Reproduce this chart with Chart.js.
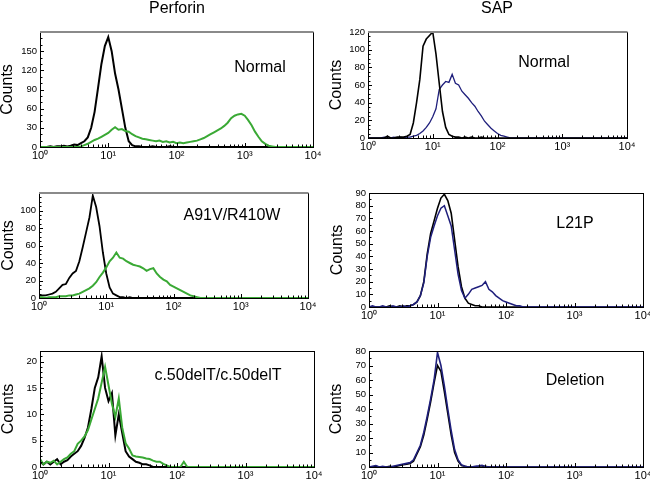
<!DOCTYPE html>
<html><head><meta charset="utf-8">
<script src="https://cdn.jsdelivr.net/npm/chart.js@4"></script>
<style>
html,body{margin:0;padding:0;background:#fff;}
#wrap{position:relative;width:650px;height:486px;overflow:hidden;font-family:"Liberation Sans",Arial,Helvetica,sans-serif;}
#wrap canvas{position:absolute;left:0;top:0;}
.lbl{position:absolute;font-size:16px;line-height:16px;white-space:nowrap;transform:translate(-50%,-50%);color:#000;}
</style></head>
<body><div id="wrap">
<canvas id="c1" width="650" height="486"></canvas>
<canvas id="c2" width="650" height="486"></canvas>
<canvas id="c3" width="650" height="486"></canvas>
<canvas id="c4" width="650" height="486"></canvas>
<canvas id="c5" width="650" height="486"></canvas>
<canvas id="c6" width="650" height="486"></canvas>
<div class="lbl" style="left:177px;top:8px">Perforin</div>
<div class="lbl" style="left:497px;top:8px">SAP</div>
<div class="lbl" style="left:260px;top:67px">Normal</div>
<div class="lbl" style="left:544px;top:62px">Normal</div>
<div class="lbl" style="left:232px;top:215px">A91V/R410W</div>
<div class="lbl" style="left:575px;top:223px">L21P</div>
<div class="lbl" style="left:218px;top:375px">c.50delT/c.50delT</div>
<div class="lbl" style="left:575px;top:380px">Deletion</div>
</div>
<script>
// Fluorescence intensity channels (log-spaced bins)
const bins = [
1,1.122,1.259,1.413,1.585,1.778,1.995,2.239,2.512,2.818,
3.162,3.548,3.981,4.467,5.012,5.623,6.31,7.079,7.943,8.913,
10,11.22,12.59,14.13,15.85,17.78,19.95,22.39,25.12,28.18,
31.62,35.48,39.81,44.67,50.12,56.23,63.1,70.79,79.43,89.13,
100,112.2,125.9,141.3,158.5,177.8,199.5,223.9,251.2,281.8,
316.2,354.8,398.1,446.7,501.2,562.3,631,707.9,794.3,891.3,
1000,1122,1259,1413,1585,1778,1995,2239,2512,2818,
3162,3548,3981,4467,5012,5623,6310,7079,7943,8913,
10000];

const xTickValues = [1,2,3,4,5,6,7,8,9,10,20,30,40,50,60,70,80,90,100,200,300,400,500,600,700,800,900,1000,2000,3000,4000,5000,6000,7000,8000,9000,10000];
const xMajorTicks = [1,10,100,1000,10000];
const xMajorLabels = ['10\u2070','10\u00B9','10\u00B2','10\u00B3','10\u2074'];

// Perforin - Normal
const perfNormalIso = [
0,0,0,1,0,1,1,2,1,2,
4,3,6,9,15,30,55,92,130,158,
172,150,115,90,60,30,9,3,1,1,
0,0,0,1,0,0,0,0,1,0,
0,0,0,0,0,0,0,0,0,0,
0,0,0,0,0,0,0,0,0,0,
0,0,0,0,0,0,0,0,0,0,
0,0,0,0,0,0,0,0,0,0,
0];
const perfNormalStain = [
0,0,0,0,0,0,0,0,0,0,
0,0,1,3,5,8,11,13,16,19,
22,27,31,27,28,25,24,20,17,15,
13,12,11,10,9,10,8,9,7,8,
6,7,6,7,8,9,10,12,14,17,
20,23,26,29,33,38,45,49,51,52,
49,42,34,24,16,9,5,2,1,0,
0,0,0,0,0,0,0,0,0,0,
0];

// SAP - Normal
const sapNormalIso = [
0,0,0,0,0,0,2,0,0,1,
1,1,2,4,17,40,66,104,112,116,
120,95,62,30,12,4,2,1,1,0,
1,0,1,0,0,1,0,0,0,0,
0,0,0,0,0,0,0,0,0,0,
0,0,0,0,0,0,0,0,0,0,
0,0,0,0,0,0,0,0,0,0,
0,0,0,0,0,0,0,0,0,0,
0];
const sapNormalStain = [
0,0,0,0,0,1,0,0,1,0,
1,0,1,1,2,3,5,8,12,17,
24,33,55,60,64,63,72,62,60,53,
49,45,40,36,30,25,19,15,11,8,
5,3,2,1,0,0,0,0,0,0,
0,0,0,0,0,0,0,0,0,0,
0,0,0,0,0,0,0,0,0,0,
0,0,0,0,0,0,0,0,0,0,
0];

// Perforin - A91V/R410W
const perfMutIso = [
3,3,3,4,5,7,11,15,16,23,
28,31,42,58,75,92,117,104,82,52,
28,12,5,3,1,1,0,1,0,0,
0,0,0,0,0,0,0,0,0,0,
0,0,0,0,0,0,0,0,0,0,
0,0,0,0,0,0,0,0,0,0,
0,0,0,0,0,0,0,0,0,0,
0,0,0,0,0,0,0,0,0,0,
0];
const perfMutStain = [
1,1,0,1,1,1,2,2,2,3,
3,4,5,7,9,11,14,18,24,29,
35,42,46,52,46,45,42,40,38,37,
36,34,31,33,34,28,24,21,19,15,
13,11,9,7,5,3,2,1,0,0,
0,0,0,0,0,0,0,0,0,0,
0,0,0,0,0,0,0,0,0,0,
0,0,0,0,0,0,0,0,0,0,
0];

// SAP - L21P
const sapL21PIso = [
0,0,0,0,0,0,1,0,0,1,
0,1,1,2,4,9,20,42,58,68,
78,86,89,84,74,53,32,16,7,3,
2,1,1,0,0,0,0,0,0,0,
0,0,0,0,0,0,0,0,0,0,
0,0,0,0,0,0,0,0,0,0,
0,0,0,0,0,0,0,0,0,0,
0,0,0,0,0,0,0,0,0,0,
0];
const sapL21PStain = [
0,1,0,0,1,0,0,1,0,0,
1,0,1,2,4,9,19,40,55,64,
72,78,80,72,64,45,26,13,7,10,
14,15,16,17,20,14,12,9,7,5,
4,3,2,1,1,0,0,0,0,0,
0,0,0,0,0,0,0,0,0,0,
0,0,0,0,0,0,0,0,0,0,
0,0,0,0,0,0,0,0,0,0,
0];

// Perforin - c.50delT/c.50delT
const perfDelIso = [
1,0.5,1,0.5,1,1.5,0.5,1,1.3,2,
2.5,3,4,5.5,7.5,11,15,17,21,15,
12.5,14,6,10,6.5,3,2,1.5,1,0.8,
0.5,0.5,0.3,0,0,0,0,0,0,0,
0,0,0,0,0,0,0,0,0,0,
0,0,0,0,0,0,0,0,0,0,
0,0,0,0,0,0,0,0,0,0,
0,0,0,0,0,0,0,0,0,0,
0];
const perfDelStain = [
1.5,0.5,1,0.8,1.2,0.5,1,1.5,1.8,2.5,
3,4.4,5,5.8,7,9,11,13,16,19,
15.5,12,9.5,13,7.5,4.5,3.5,2.2,2,1.9,
1.8,1.6,1.5,1.2,1,1,0.6,0.3,0,0,
0,0,1,0,0,0,0,0,0,0,
0,0,0,0,0,0,0,0,0,0,
0,0,0,0,0,0,0,0,0,0,
0,0,0,0,0,0,0,0,0,0,
0];

// SAP - Deletion
const sapDelIso = [
0,0,0.5,0,0,0,0.5,0,0.5,1,
1.5,2,2.5,4,9,14,22,33,45,58,
70,66,52,37,22,10,4,1,0.5,0,
0,0,0,0,0.5,0,0,0,0,0,
0,0,0,0,0,0,0,0,0,0,
0,0,0,0,0,0,0,0,0,0,
0,0,0,0,0,0,0,0,0,0,
0,0,0,0,0,0,0,0,0,0,
0];
const sapDelStain = [
0,0.5,1,0,0.5,0,0,0.5,1,1.5,
2,2.5,3,5,10,15,24,35,47,60,
79,70,56,40,25,12,5,1.5,0.5,0,
0,0.5,0.8,1.2,0.3,0,0,0,0,0,
0,0,0,0,0,0,0,0,0,0,
0,0,0,0,0,0,0,0,0,0,
0,0,0,0,0,0,0,0,0,0,
0,0,0,0,0,0,0,0,0,0,
0];

const BLACK = '#000000', GREEN = '#3aa935', BLUE = '#1f1f7c';

Chart.defaults.font.family = '"Liberation Sans", Arial, Helvetica, sans-serif';
Chart.defaults.color = '#000';

const frameTicks = {
  id: 'frameTicks',
  afterDatasetsDraw(chart, args, opts) {
    const {ctx, chartArea: {left, right, top, bottom}, scales: {x, y}} = chart;
    ctx.save();
    ctx.strokeStyle = '#000';
    ctx.lineWidth = 1;
    ctx.beginPath();
    x.ticks.forEach(t => {
      const px = Math.round(x.getPixelForValue(t.value)) + 0.5;
      const len = xMajorTicks.includes(t.value) ? 4 : 2.5;
      ctx.moveTo(px, bottom); ctx.lineTo(px, bottom - len);
    });
    y.ticks.forEach(t => {
      const py = Math.round(y.getPixelForValue(t.value)) + 0.5;
      const len = (t.value % opts.labelStep === 0) ? 4 : 2.5;
      ctx.moveTo(left, py); ctx.lineTo(left + len, py);
    });
    ctx.stroke();
    ctx.strokeRect(Math.round(left) + 0.5, Math.round(top) + 0.5, Math.round(right - left), Math.round(bottom - top));
    if (opts.topColor) {
      ctx.strokeStyle = opts.topColor; ctx.lineWidth = 2;
      ctx.beginPath(); ctx.moveTo(left, Math.round(top)); ctx.lineTo(right + 0.5, Math.round(top)); ctx.stroke();
    }
    ctx.restore();
  }
};

const panels = [
  {id:'c1', L:40, R:313, T:32, B:147, countsX:8, yMax:180, yStep:10, yLabelStep:30, yLabelMax:150, topColor:'#8a8a8a',
   series:[{data:perfNormalStain, color:GREEN, w:2}, {data:perfNormalIso, color:BLACK, w:2}]},
  {id:'c2', L:368, R:627, T:32, B:138, countsX:337, yMax:120, yStep:5, yLabelStep:20, yLabelMax:120, topColor:'#8a8a8a',
   series:[{data:sapNormalIso, color:BLACK, w:1.6}, {data:sapNormalStain, color:BLUE, w:1.3}]},
  {id:'c3', L:39, R:308, T:193, B:298, countsX:9, yMax:120, yStep:5, yLabelStep:20, yLabelMax:100, topColor:'#8a8a8a',
   series:[{data:perfMutStain, color:GREEN, w:2}, {data:perfMutIso, color:BLACK, w:1.8}]},
  {id:'c4', L:369, R:643, T:193, B:307, countsX:338, yMax:90, yStep:5, yLabelStep:10, yLabelMax:90, topColor:null,
   series:[{data:sapL21PStain, color:BLUE, w:1.5}, {data:sapL21PIso, color:BLACK, w:1.6}]},
  {id:'c5', L:40, R:314, T:351, B:467, countsX:9, yMax:22, yStep:1, yLabelStep:5, yLabelMax:20, topColor:null,
   series:[{data:perfDelStain, color:GREEN, w:2}, {data:perfDelIso, color:BLACK, w:2}]},
  {id:'c6', L:369, R:643, T:351, B:467, countsX:337, yMax:80, yStep:5, yLabelStep:10, yLabelMax:80, topColor:null,
   series:[{data:sapDelStain, color:BLUE, w:1.6}, {data:sapDelIso, color:BLACK, w:1.6}]}
];

panels.forEach(p => {
  const padL = p.countsX - 8;
  new Chart(document.getElementById(p.id), {
    type: 'line',
    data: {
      datasets: p.series.map(s => ({
        data: bins.map((b, i) => ({x: b, y: s.data[i]})),
        borderColor: s.color, borderWidth: s.w, pointRadius: 0, tension: 0, fill: false
      }))
    },
    options: {
      responsive: false, animation: false,
      layout: {padding: {left: padL, right: 650 - p.R, top: p.T, bottom: 486 - p.B - 15}},
      plugins: {legend: {display: false}, tooltip: {enabled: false},
        frameTicks: {topColor: p.topColor, labelStep: p.yLabelStep}},
      scales: {
        x: {
          type: 'logarithmic', min: 1, max: 10000,
          grid: {display: false, drawTicks: false}, border: {display: false},
          afterBuildTicks: s => { s.ticks = xTickValues.map(v => ({value: v})); },
          afterFit: s => { s.height = 15; s.paddingLeft = 0; s.paddingRight = 0; },
          ticks: {autoSkip: false, maxRotation: 0, minRotation: 0, padding: 2, color: '#000', font: {size: 11},
            callback: v => { const k = xMajorTicks.indexOf(v); return k >= 0 ? xMajorLabels[k] : ''; }}
        },
        y: {
          type: 'linear', min: 0, max: p.yMax,
          grid: {display: false, drawTicks: false}, border: {display: false},
          afterFit: s => { s.width = p.L - padL; s.paddingTop = 0; s.paddingBottom = 0; },
          ticks: {stepSize: p.yStep, autoSkip: false, padding: 3, color: '#000', font: {size: 9.5},
            callback: v => (v % p.yLabelStep === 0 && v <= p.yLabelMax) ? String(v) : ''},
          title: {display: true, text: 'Counts', color: '#000', font: {size: 16, lineHeight: 1}, padding: 0}
        }
      }
    },
    plugins: [frameTicks]
  });
});
</script>
</body></html>
